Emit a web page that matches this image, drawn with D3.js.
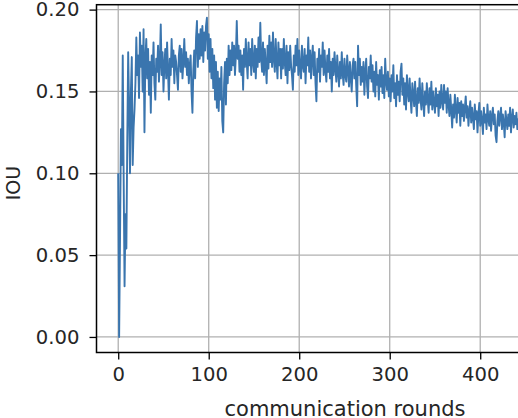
<!DOCTYPE html>
<html>
<head>
<meta charset="utf-8">
<script src="https://cdn.jsdelivr.net/npm/d3@7"></script>
<style>
  body { margin: 0; background: #fff; }
  svg  { display: block; font-family: 'DejaVu Sans', sans-serif; }
</style>
</head>
<body>
<svg width="518" height="418"></svg>
<script>
// IOU per communication round (rounds 0..449)
const iou = [
  0.100, 0.000, 0.060, 0.127, 0.105, 0.172, 0.098, 0.031, 0.075, 0.054,
  0.120, 0.174, 0.140, 0.100, 0.150, 0.171, 0.105, 0.128, 0.139, 0.155,
  0.183, 0.160, 0.172, 0.146, 0.186, 0.165, 0.178, 0.150, 0.188, 0.125,
  0.170, 0.182, 0.158, 0.176, 0.148, 0.168, 0.137, 0.172, 0.160, 0.180,
  0.155, 0.145, 0.170, 0.162, 0.178, 0.156, 0.168, 0.191, 0.160, 0.174,
  0.150, 0.166, 0.176, 0.158, 0.180, 0.163, 0.145, 0.170, 0.160, 0.182,
  0.165, 0.175, 0.155, 0.172, 0.168, 0.160, 0.151, 0.172, 0.178, 0.162,
  0.176, 0.158, 0.168, 0.182, 0.165, 0.174, 0.160, 0.170, 0.155, 0.166,
  0.172, 0.150, 0.137, 0.163, 0.175, 0.158, 0.183, 0.193, 0.165, 0.185,
  0.170, 0.188, 0.172, 0.190, 0.168, 0.186, 0.175, 0.190, 0.195, 0.170,
  0.185, 0.162, 0.182, 0.158, 0.176, 0.152, 0.172, 0.145, 0.168, 0.140,
  0.162, 0.138, 0.158, 0.145, 0.165, 0.132, 0.125, 0.155, 0.168, 0.142,
  0.170, 0.155, 0.178, 0.160, 0.175, 0.163, 0.180, 0.166, 0.178, 0.160,
  0.172, 0.193, 0.170, 0.178, 0.162, 0.175, 0.160, 0.172, 0.151, 0.176,
  0.165, 0.182, 0.168, 0.158, 0.180, 0.166, 0.176, 0.160, 0.182, 0.168,
  0.162, 0.178, 0.158, 0.176, 0.165, 0.183, 0.168, 0.192, 0.170, 0.162,
  0.180, 0.160, 0.176, 0.166, 0.155, 0.178, 0.164, 0.184, 0.168, 0.180,
  0.165, 0.186, 0.170, 0.162, 0.182, 0.168, 0.158, 0.180, 0.166, 0.176,
  0.158, 0.176, 0.164, 0.182, 0.168, 0.160, 0.178, 0.155, 0.174, 0.163,
  0.178, 0.166, 0.160, 0.151, 0.172, 0.162, 0.178, 0.166, 0.182, 0.160,
  0.175, 0.164, 0.158, 0.178, 0.166, 0.162, 0.176, 0.155, 0.172, 0.166,
  0.183, 0.162, 0.175, 0.158, 0.170, 0.178, 0.160, 0.174, 0.155, 0.144,
  0.170, 0.162, 0.176, 0.156, 0.172, 0.165, 0.180, 0.160, 0.175, 0.163,
  0.156, 0.172, 0.162, 0.176, 0.158, 0.168, 0.150, 0.170, 0.160, 0.174,
  0.164, 0.156, 0.172, 0.162, 0.153, 0.168, 0.158, 0.174, 0.161, 0.154,
  0.170, 0.160, 0.156, 0.172, 0.163, 0.153, 0.168, 0.158, 0.150, 0.166,
  0.170, 0.158, 0.168, 0.153, 0.141, 0.178, 0.160, 0.170, 0.154, 0.165,
  0.156, 0.168, 0.148, 0.162, 0.170, 0.153, 0.146, 0.165, 0.158, 0.172,
  0.156, 0.166, 0.150, 0.162, 0.147, 0.168, 0.154, 0.160, 0.145, 0.163,
  0.153, 0.165, 0.149, 0.160, 0.146, 0.170, 0.156, 0.151, 0.162, 0.147,
  0.158, 0.144, 0.160, 0.150, 0.166, 0.146, 0.155, 0.141, 0.160, 0.148,
  0.156, 0.144, 0.162, 0.167, 0.148, 0.158, 0.142, 0.155, 0.139, 0.160,
  0.150, 0.144, 0.158, 0.146, 0.137, 0.155, 0.148, 0.141, 0.156, 0.144,
  0.135, 0.152, 0.143, 0.158, 0.146, 0.139, 0.155, 0.144, 0.135, 0.150,
  0.142, 0.155, 0.145, 0.137, 0.152, 0.142, 0.156, 0.139, 0.150, 0.143,
  0.137, 0.152, 0.141, 0.148, 0.135, 0.150, 0.140, 0.154, 0.144, 0.139,
  0.154, 0.143, 0.150, 0.137, 0.152, 0.142, 0.135, 0.148, 0.139, 0.128,
  0.142, 0.134, 0.148, 0.139, 0.131, 0.146, 0.137, 0.143, 0.129, 0.144,
  0.135, 0.142, 0.132, 0.140, 0.147, 0.134, 0.141, 0.129, 0.138, 0.144,
  0.131, 0.140, 0.134, 0.127, 0.142, 0.133, 0.138, 0.125, 0.136, 0.143,
  0.129, 0.138, 0.132, 0.124, 0.140, 0.131, 0.136, 0.127, 0.142, 0.133,
  0.129, 0.138, 0.126, 0.135, 0.140, 0.130, 0.136, 0.123, 0.119, 0.132,
  0.138, 0.129, 0.135, 0.140, 0.127, 0.136, 0.131, 0.122, 0.138, 0.132,
  0.127, 0.136, 0.129, 0.140, 0.125, 0.134, 0.139, 0.128, 0.135, 0.130,
  0.137, 0.127, 0.133, 0.124, 0.138, 0.129, 0.135, 0.126, 0.132, 0.136
];

const xTicks = [0, 100, 200, 300, 400];
const yTicks = [0.00, 0.05, 0.10, 0.15, 0.20];

const xLabel = 'communication rounds',
      yLabel = 'IOU';

function draw () {
  let svg = d3.select('svg');

  // plot box (right edge runs past the picture)
  let left = 96.5, top = 4.7, bottom = 352.5;

  let x = d3.scaleLinear().domain([-24, 525]).range([left, left + 549 * 0.905]),
      y = d3.scaleLinear().domain([-0.0095, 0.203]).range([bottom, top]);

  let right = x.range()[1];

  // Grid
  let grid = svg.append('g')
    .attr('stroke', '#b0b0b0')
    .attr('stroke-width', 1.3);

  grid.selectAll('.gx').data(xTicks)
    .enter().append('line')
      .attr('x1', d => x(d)).attr('x2', d => x(d))
      .attr('y1', top).attr('y2', bottom);

  grid.selectAll('.gy').data(yTicks)
    .enter().append('line')
      .attr('x1', left).attr('x2', right)
      .attr('y1', d => y(d)).attr('y2', d => y(d));

  // Line
  let line = d3.line()
    .x((d, i) => x(i))
    .y(d => y(d));

  svg.append('path')
    .datum(iou)
    .attr('fill', 'none')
    .attr('stroke', '#3a75ae')
    .attr('stroke-width', 1.9)
    .attr('stroke-linejoin', 'round')
    .attr('d', line);

  // Axes
  let xAxis = d3.axisBottom(x).tickValues(xTicks).tickFormat(d3.format('d')).tickSize(7).tickPadding(8),
      yAxis = d3.axisLeft(y).tickValues(yTicks).tickFormat(d3.format('.2f')).tickSize(7).tickPadding(10);

  let gx = svg.append('g')
    .attr('transform', `translate(0, ${bottom})`)
    .call(xAxis);

  let gy = svg.append('g')
    .attr('transform', `translate(${left}, 0)`)
    .call(yAxis);

  [gx, gy].forEach(g => {
    g.select('.domain').remove();
    g.selectAll('line').attr('stroke', '#000').attr('stroke-width', 1.3);
    g.selectAll('text')
      .attr('fill', '#262626')
      .style('font-size', '19.6px')
      .style('font-family', "'DejaVu Sans', sans-serif");
  });

  // Frame
  svg.append('rect')
    .attr('x', left).attr('y', top)
    .attr('width', right - left).attr('height', bottom - top)
    .attr('fill', 'none')
    .attr('stroke', '#000')
    .attr('stroke-width', 1.5);

  // Labels
  svg.append('text')
    .attr('x', 345).attr('y', 416)
    .attr('text-anchor', 'middle')
    .attr('fill', '#262626')
    .style('font-size', '21px')
    .text(xLabel);

  svg.append('text')
    .attr('transform', 'translate(20, 183) rotate(-90)')
    .attr('text-anchor', 'middle')
    .attr('fill', '#262626')
    .style('font-size', '19px')
    .text(yLabel);
}

document.addEventListener('DOMContentLoaded', draw);
</script>
</body>
</html>
